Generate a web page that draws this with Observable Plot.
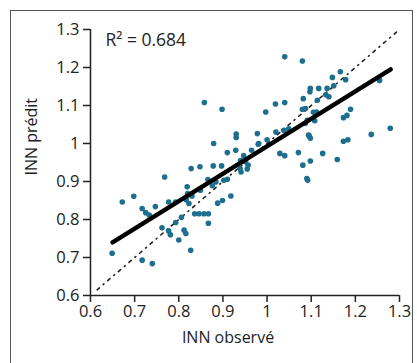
<!DOCTYPE html>
<html><head><meta charset="utf-8">
<script src="https://cdn.jsdelivr.net/npm/d3@7"></script>
<script src="https://cdn.jsdelivr.net/npm/@observablehq/plot@0.6"></script>
<style>
body{margin:0;background:#fff;}
#wrap{position:relative;width:417px;height:363px;overflow:hidden;}
#frame{position:absolute;left:10px;top:10px;width:403px;height:400px;border:1.5px solid #555;box-sizing:border-box;pointer-events:none;}
svg{display:block;}
</style></head><body><div id="wrap"><div id="frame"></div><div id="chart"></div></div>
<script>
const innObserve = [0.649,0.672,0.698,0.717,0.725,0.733,0.747,0.717,0.740,0.768,0.762,0.777,0.777,0.781,0.793,0.800,0.806,0.812,0.816,0.819,0.817,0.823,0.827,0.828,0.848,0.836,0.846,0.857,0.867,0.867,0.858,0.879,0.878,0.884,0.888,0.899,0.898,0.897,0.910,0.918,0.910,0.930,0.930,0.929,0.939,0.941,0.951,0.957,0.965,0.978,0.980,0.997,1.000,1.019,1.040,1.040,1.029,1.040,1.038,1.049,1.071,1.080,1.082,1.080,1.081,1.090,1.092,1.098,1.097,1.091,1.094,1.098,1.098,1.108,1.112,1.114,1.117,1.126,1.133,1.136,1.140,1.148,1.151,1.159,1.166,1.173,1.173,1.178,1.189,1.181,1.236,1.255,1.279,0.830,0.849,0.876,0.866,0.820,0.940,0.947,0.902,0.981,1.087,1.095,1.105,1.087,0.955,1.020,0.793,1.183];
const innPredit  = [0.711,0.846,0.861,0.829,0.818,0.812,0.834,0.693,0.684,0.912,0.778,0.846,0.770,0.760,0.792,0.746,0.806,0.772,0.763,0.886,0.852,0.842,0.719,0.934,0.939,0.815,0.815,0.815,0.815,0.790,1.108,1.000,0.941,0.899,0.843,0.850,1.090,0.941,0.906,0.862,0.976,1.025,1.016,0.982,0.934,0.925,0.952,0.943,0.982,1.026,0.998,1.083,1.010,1.104,1.108,1.228,0.974,0.968,1.035,1.039,0.976,1.217,1.118,1.090,0.943,0.908,0.903,1.145,1.136,1.061,1.022,1.014,0.954,1.060,1.083,1.114,1.145,0.974,1.128,1.145,1.123,1.174,1.152,0.958,1.189,1.068,1.006,1.168,1.090,1.074,1.024,1.166,1.040,0.862,0.877,0.889,0.905,0.868,0.955,0.968,0.903,1.000,1.053,1.021,1.082,1.092,0.933,1.030,0.846,1.010];
const regX = [0.65, 1.28];
const regY = [0.74, 1.195];
const idX = [0.615, 1.3];
const idY = [0.615, 1.3];
const xTicks = [0.6,0.7,0.8,0.9,1.0,1.1,1.2,1.3];
const xTickLabels = ["0.6","0.7","0.8","0.9","1","1.1","1.2","1.3"];
const yTicks = [0.6,0.7,0.8,0.9,1.0,1.1,1.2,1.3];
const yTickLabels = ["0.6","0.7","0.8","0.9","1","1.1","1.2","1.3"];
const xLabel = "INN observé";
const yLabel = "INN prédit";
const r2Label = "R² = 0.684";

const points = innObserve.map((x, i) => ({x, y: innPredit[i]}));
const reg = regX.map((x, i) => ({x, y: regY[i]}));
const ident = idX.map((x, i) => ({x, y: idY[i]}));

const chart = Plot.plot({
  width: 417, height: 363,
  marginLeft: 90, marginRight: 18, marginTop: 29, marginBottom: 68,
  style: {fontFamily: "'Open Sans', sans-serif", fontSize: "16.5px", color: "#222", background: "transparent"},
  x: {domain: [0.6, 1.3]},
  y: {domain: [0.6, 1.3]},
  marks: [
    Plot.axisX({ticks: xTicks, tickFormat: (d, i) => xTickLabels[i], tickSize: 7, tickPadding: 3, label: null, strokeWidth: 1.5}),
    Plot.axisY({ticks: yTicks, tickFormat: (d, i) => yTickLabels[i], tickSize: 7, tickPadding: 4, label: null, strokeWidth: 1.5}),
    Plot.ruleX([0.6], {y1: 0.6, y2: 1.3, strokeWidth: 1.5, stroke: "#222"}),
    Plot.ruleY([0.6], {x1: 0.6, x2: 1.3, strokeWidth: 1.5, stroke: "#222"}),
    Plot.line(ident, {x: "x", y: "y", stroke: "#222", strokeWidth: 1.6, strokeDasharray: "3,5,1,5"}),
    Plot.dot(points, {x: "x", y: "y", r: 2.8, fill: "#1d6f8f", stroke: "none"}),
    Plot.line(reg, {x: "x", y: "y", stroke: "#000", strokeWidth: 4.5, strokeLinecap: "round"}),
    Plot.text([r2Label], {frameAnchor: "top-left", dx: 15, dy: 11, textAnchor: "start", lineAnchor: "middle", fontSize: 17.5, fill: "#222"}),
    Plot.text([xLabel], {frameAnchor: "bottom", dx: -17, dy: 47, fontSize: 16, fill: "#222"}),
    Plot.text([yLabel], {frameAnchor: "left", dx: -59, dy: 13, rotate: -90, fontSize: 16, fill: "#222"})
  ]
});
document.getElementById("chart").appendChild(chart);
</script>
</body></html>
